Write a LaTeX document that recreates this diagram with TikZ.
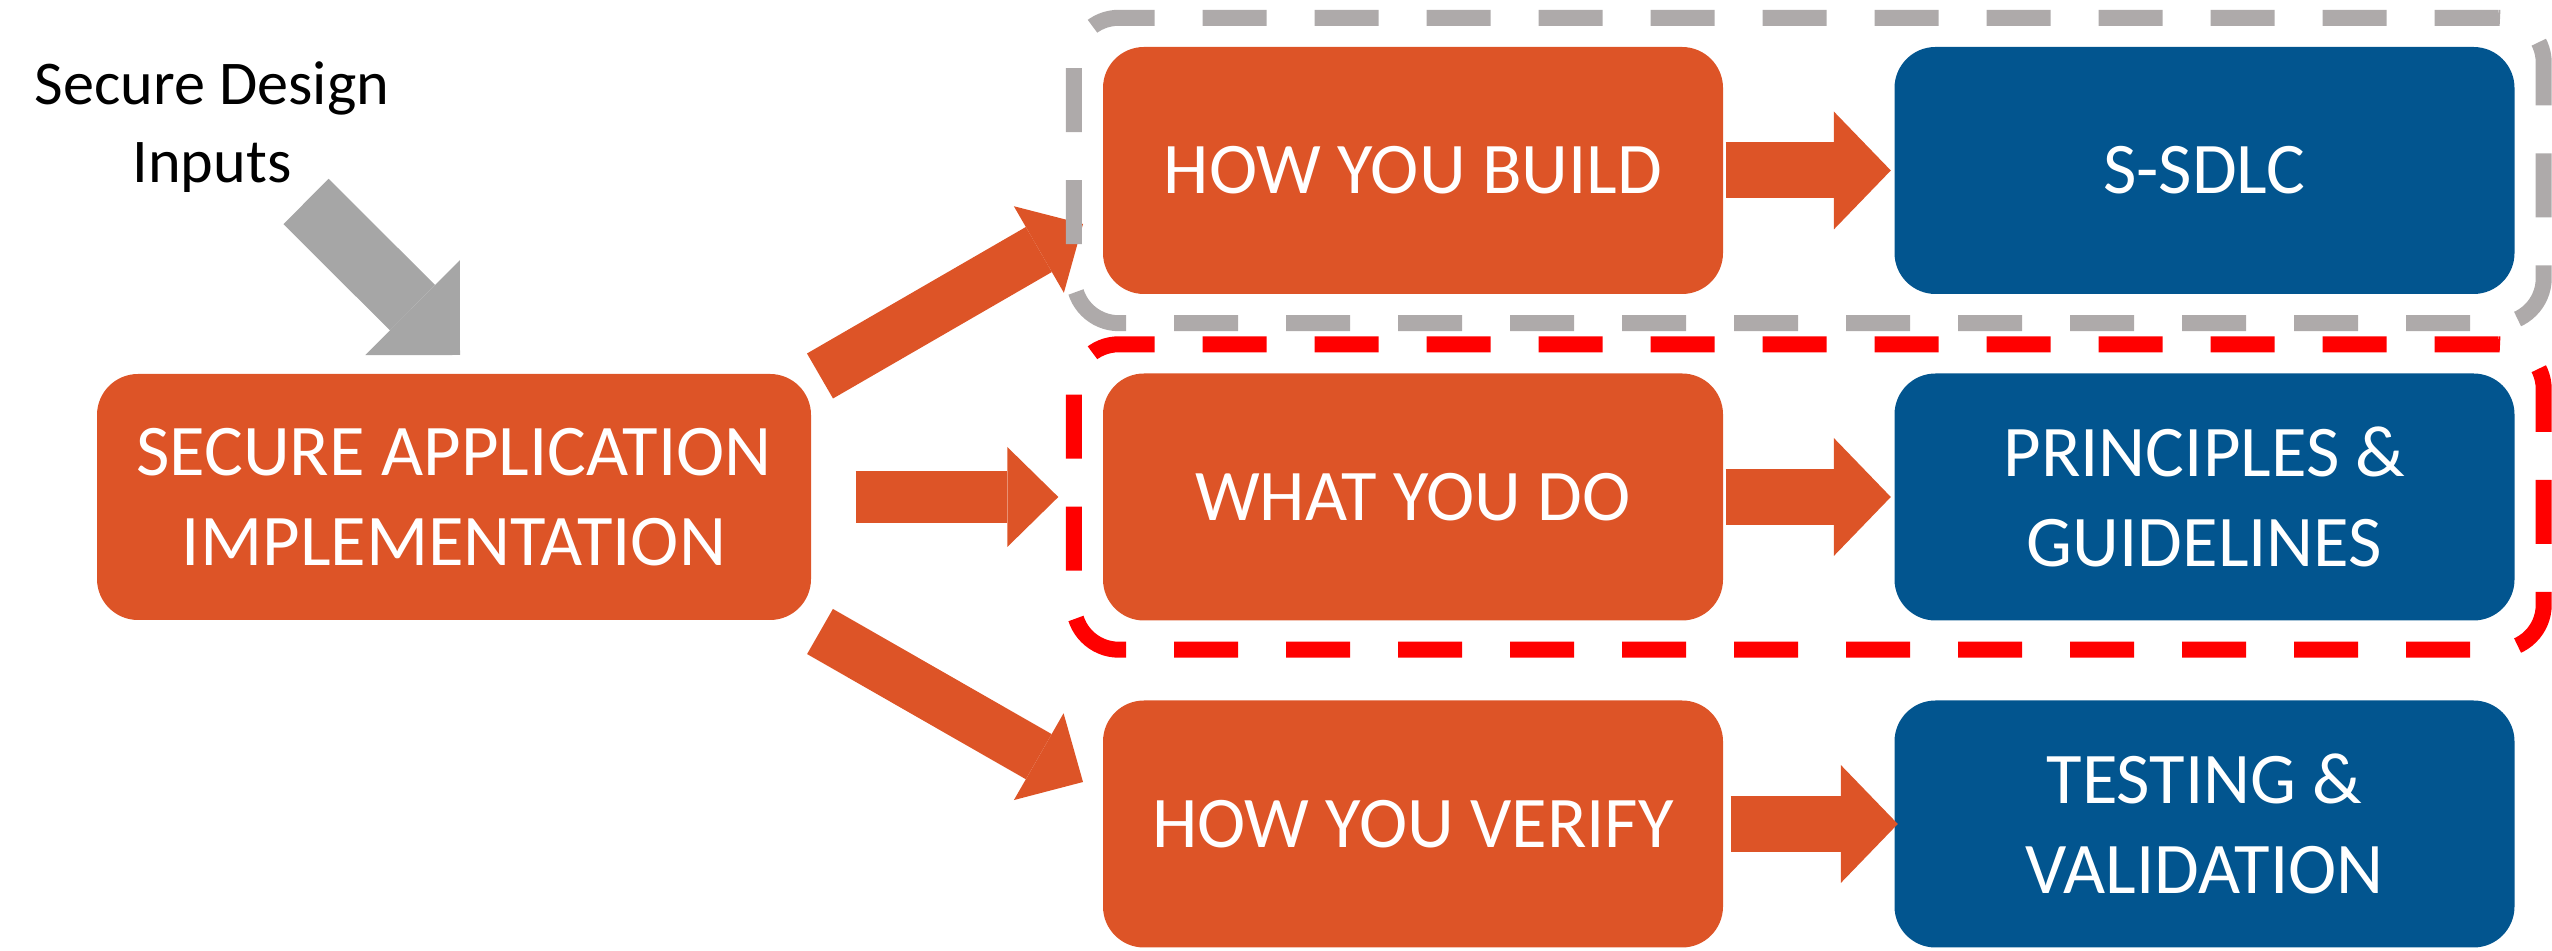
\documentclass[tikz,border=0pt]{standalone}
\usepackage{fontspec}
\setmainfont{Carlito}
\usetikzlibrary{arrows.meta,fit}

\definecolor{boxorange}{HTML}{DD5427}
\definecolor{boxblue}{HTML}{02558F}
\definecolor{arrowgray}{HTML}{A6A6A6}
\definecolor{framegray}{HTML}{AEAAAA}
\definecolor{framered}{HTML}{FF0000}

\begin{document}
\begin{tikzpicture}[
	box/.style={rounded corners=0.41cm, minimum width=6.2cm, minimum height=2.47cm, inner sep=0pt,
		text=white, align=center, font=\fontsize{20.7}{25.5}\selectfont},
	howbox/.style={box, fill=boxorange},
	whatbox/.style={box, fill=boxblue},
	groupframe/.style={draw=#1, line width=0.16cm, dash pattern=on 0.64cm off 0.48cm,
		rounded corners=0.45cm, inner sep=0.285cm},
	blockarrow/.style n args={4}{draw=#1, line width=#2,
		-{Triangle[width=#3, length=#4, line width=0pt]}}
	]
	\useasboundingbox (0,0) rectangle (25.52,-9.51);
	
	% input text and the main box
	\node (inputs) [font=\fontsize{17.7}{22.4}\selectfont, align=center] at (2.12,-1.27) {Secure Design\\Inputs};
	\node (main) [howbox, minimum width=7.14cm, minimum height=2.46cm] at (4.54,-4.97) {SECURE APPLICATION\\IMPLEMENTATION};
	
	% the three rows
	\node (build) [howbox] at (14.13,-1.705) {HOW YOU BUILD};
	\node (ssdlc) [whatbox] at (22.045,-1.705) {S-SDLC};
	\node (do) [howbox] at (14.13,-4.97) {WHAT YOU DO};
	\node (principles) [whatbox] at (22.045,-4.97) {PRINCIPLES \&\\GUIDELINES};
	\node (verify) [howbox] at (14.13,-8.24) {HOW YOU VERIFY};
	\node (testing) [whatbox] at (22.045,-8.24) {TESTING \&\\VALIDATION};
	
	\path
	(3.06,-2.015) coordinate (in-s)
	(4.60,-3.55) coordinate (in-e)
	(8.20,-3.76) coordinate (up-s)
	(10.83,-2.24) coordinate (up-e)
	(8.20,-6.315) coordinate (low-s)
	(10.83,-7.82) coordinate (low-e)
	;
	
	% block arrows
	\draw[blockarrow={arrowgray}{0.64cm}{1.34cm}{0.67cm}] (in-s) -- (in-e);
	\draw[blockarrow={boxorange}{0.52cm}{1.0cm}{0.51cm}] (up-s) -- (up-e);
	\draw[blockarrow={boxorange}{0.52cm}{1.0cm}{0.51cm}] ([xshift=0.44cm]main.east) -- ([xshift=-0.44cm]do.west);
	\draw[blockarrow={boxorange}{0.52cm}{1.0cm}{0.51cm}] (low-s) -- (low-e);
	\foreach \a/\b in {build/ssdlc, do/principles}
	\draw[blockarrow={boxorange}{0.56cm}{1.18cm}{0.57cm}] ([xshift=0.02cm]\a.east) -- ([xshift=-0.03cm]\b.west);
	\draw[blockarrow={boxorange}{0.56cm}{1.18cm}{0.57cm}] ([xshift=0.07cm]verify.east) -- ([xshift=0.04cm]testing.west);
	
	% dashed groups
	\node (buildgroup) [groupframe=framegray, fit=(build)(ssdlc)] {};
	\node (dogroup) [groupframe=framered, fit=(do)(principles)] {};
\end{tikzpicture}
\end{document}
